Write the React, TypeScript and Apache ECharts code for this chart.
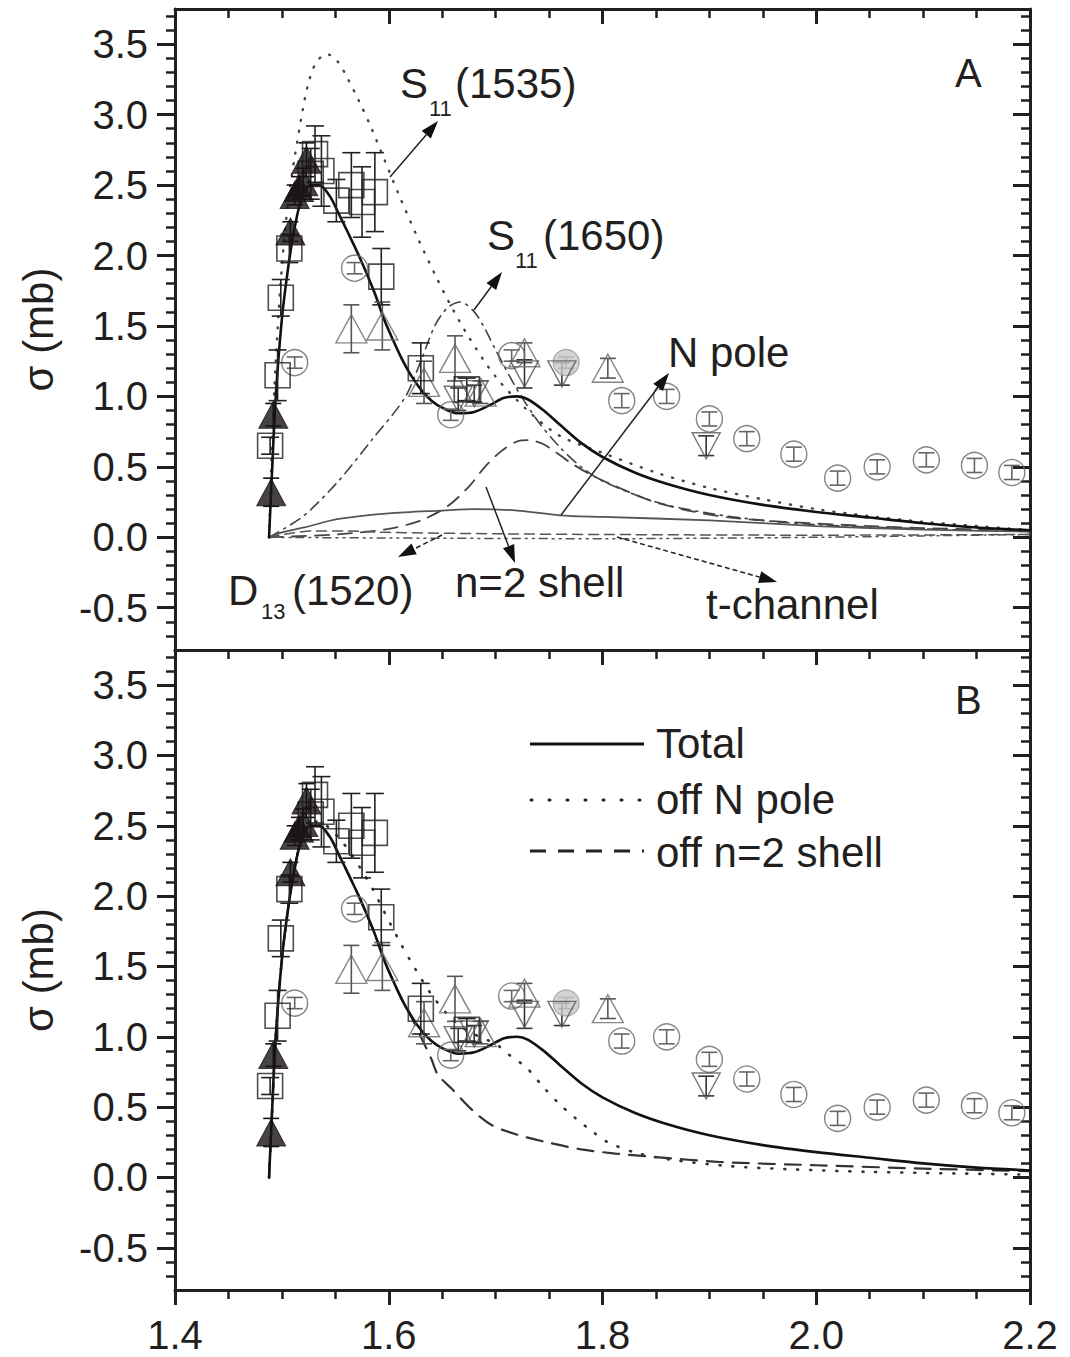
import React, { useEffect, useRef } from 'react';
import * as echarts from 'echarts';

const FONT = "'Liberation Sans', Arial, Helvetica, sans-serif";
const INK = '#231f20';

// ---- tick labels ----
const xMajorTicks = [1.4, 1.6, 1.8, 2.0, 2.2];
const yMajorTicks = [-0.5, 0, 0.5, 1.0, 1.5, 2.0, 2.5, 3.0, 3.5];
const xMinorTicks: number[] = [];
for (let i = 0; i <= 16; i++) xMinorTicks.push(Math.round((1.4 + 0.05 * i) * 100) / 100);
const yMinorTicks: number[] = [];
for (let i = -7; i <= 37; i++) yMinorTicks.push(Math.round(i) / 10);

// ---- model curves (panel A) ----
const totalCurve = [
  [1.488, 0], [1.491, 0.5], [1.494, 0.97], [1.5, 1.55], [1.506, 1.92], [1.512, 2.2], [1.519, 2.42],
  [1.527, 2.5], [1.535, 2.5], [1.545, 2.42], [1.553, 2.3], [1.562, 2.16], [1.572, 2.0], [1.58, 1.86],
  [1.587, 1.73], [1.596, 1.54], [1.604, 1.4], [1.612, 1.27], [1.62, 1.16], [1.63, 1.05], [1.64, 0.97],
  [1.65, 0.92], [1.665, 0.88], [1.68, 0.89], [1.695, 0.94], [1.708, 0.99], [1.72, 1.0], [1.73, 0.98],
  [1.745, 0.9], [1.76, 0.8], [1.78, 0.67], [1.8, 0.57], [1.83, 0.46], [1.86, 0.38], [1.9, 0.3],
  [1.95, 0.23], [2.0, 0.18], [2.05, 0.14], [2.1, 0.1], [2.15, 0.07], [2.2, 0.05],
];
const s11_1535Curve = [
  [1.488, 0], [1.492, 0.9], [1.497, 1.6], [1.502, 2.1], [1.507, 2.45], [1.512, 2.7], [1.518, 2.97],
  [1.524, 3.2], [1.532, 3.37], [1.542, 3.43], [1.552, 3.38], [1.562, 3.25], [1.572, 3.1], [1.584, 2.9],
  [1.596, 2.68], [1.609, 2.44], [1.628, 2.11], [1.643, 1.87], [1.657, 1.66], [1.675, 1.42], [1.7, 1.14],
  [1.73, 0.9], [1.76, 0.72], [1.8, 0.6], [1.85, 0.46], [1.9, 0.35], [1.95, 0.27], [2.0, 0.2],
  [2.05, 0.15], [2.1, 0.11], [2.15, 0.08], [2.2, 0.05],
];
const s11_1650Curve = [
  [1.488, 0], [1.52, 0.15], [1.553, 0.4], [1.584, 0.69], [1.615, 0.99], [1.63, 1.25], [1.643, 1.5],
  [1.655, 1.63], [1.667, 1.67], [1.68, 1.6], [1.69, 1.48], [1.7, 1.33], [1.72, 1.05], [1.74, 0.82],
  [1.76, 0.64], [1.78, 0.5], [1.8, 0.4], [1.85, 0.25], [1.9, 0.17], [1.95, 0.12], [2.0, 0.09],
  [2.1, 0.06], [2.2, 0.04],
];
const n2ShellCurve = [
  [1.488, 0], [1.55, 0.02], [1.6, 0.06], [1.63, 0.12], [1.655, 0.22], [1.675, 0.36], [1.69, 0.5],
  [1.705, 0.61], [1.72, 0.68], [1.73, 0.69], [1.745, 0.66], [1.77, 0.53], [1.79, 0.44], [1.81, 0.37],
  [1.845, 0.26], [1.88, 0.19], [1.92, 0.14], [1.97, 0.11], [2.05, 0.08], [2.1, 0.065], [2.2, 0.05],
];
const nPoleCurve = [
  [1.488, 0], [1.5, 0.035], [1.521, 0.07], [1.553, 0.13], [1.6, 0.17], [1.65, 0.19], [1.68, 0.2],
  [1.72, 0.19], [1.76, 0.156], [1.8, 0.145], [1.9, 0.12], [2.0, 0.08], [2.1, 0.055], [2.2, 0.04],
];
const d13Curve = [
  [1.488, 0], [1.51, 0.03], [1.53, 0.045], [1.56, 0.045], [1.6, 0.035], [1.7, 0.025], [1.8, 0.02],
  [2.0, 0.015], [2.2, 0.02],
];
const tChannelCurve = [
  [1.488, 0], [1.6, -0.005], [1.8, -0.01], [2.0, 0.0], [2.1, 0.01], [2.2, 0.02],
];

// ---- model curves (panel B) ----
const offNPoleCurve = [
  [1.488, 0], [1.491, 0.5], [1.494, 0.97], [1.5, 1.55], [1.506, 1.92], [1.512, 2.2], [1.519, 2.42],
  [1.527, 2.52], [1.535, 2.53], [1.545, 2.48], [1.555, 2.4], [1.565, 2.3], [1.575, 2.18], [1.585, 2.05],
  [1.595, 1.9], [1.61, 1.68], [1.625, 1.48], [1.64, 1.3], [1.655, 1.16], [1.67, 1.06], [1.685, 1.0],
  [1.7, 0.95], [1.713, 0.87], [1.729, 0.78], [1.745, 0.64], [1.76, 0.52], [1.775, 0.42], [1.79, 0.33],
  [1.805, 0.25], [1.834, 0.17], [1.87, 0.12], [1.92, 0.08], [1.97, 0.06], [2.05, 0.04], [2.2, 0.02],
];
const offN2ShellCurve = [
  [1.488, 0], [1.491, 0.5], [1.494, 0.97], [1.5, 1.55], [1.506, 1.92], [1.512, 2.2], [1.519, 2.42],
  [1.527, 2.5], [1.535, 2.5], [1.545, 2.42], [1.553, 2.3], [1.562, 2.16], [1.572, 2.0], [1.58, 1.86],
  [1.587, 1.73], [1.596, 1.54], [1.604, 1.4], [1.612, 1.27], [1.62, 1.16], [1.63, 1.0], [1.64, 0.84],
  [1.646, 0.73], [1.659, 0.63], [1.678, 0.48], [1.697, 0.37], [1.722, 0.3], [1.748, 0.25], [1.78, 0.2],
  [1.812, 0.17], [1.85, 0.145], [1.91, 0.11], [2.0, 0.087], [2.1, 0.063], [2.2, 0.045],
];

// ---- experimental data: [W (GeV), sigma (mb), error] ----
const filledTriangles = [
  [1.490, 0.32, 0.1], [1.492, 0.87, 0.08], [1.508, 2.17, 0.07], [1.512, 2.43, 0.07],
  [1.516, 2.48, 0.08], [1.520, 2.52, 0.1], [1.523, 2.68, 0.12],
];
const openSquares = [
  [1.489, 0.65, 0.06], [1.496, 1.15, 0.18], [1.499, 1.70, 0.13], [1.507, 2.05, 0.1],
  [1.527, 2.58, 0.18], [1.531, 2.72, 0.2], [1.537, 2.6, 0.25], [1.551, 2.39, 0.15],
  [1.565, 2.5, 0.23], [1.575, 2.38, 0.25], [1.587, 2.45, 0.28], [1.593, 1.85, 0.2],
  [1.630, 1.2, 0.18], [1.673, 1.05, 0.08],
];
const openTrianglesUp = [
  [1.565, 1.48, 0.17], [1.594, 1.5, 0.17], [1.633, 1.1, 0.15], [1.662, 1.27, 0.16],
  [1.686, 1.03, 0.08], [1.727, 1.31, 0.07], [1.805, 1.2, 0.07],
];
const openTrianglesDown = [
  [1.665, 0.98, 0.08], [1.68, 1.02, 0.06], [1.727, 1.16, 0.1], [1.762, 1.16, 0.08], [1.897, 0.65, 0.07],
];
const openCircles = [
  [1.512, 1.24, 0.04], [1.568, 1.91, 0.04], [1.658, 0.87, 0.04], [1.715, 1.29, 0.04],
  [1.818, 0.97, 0.05], [1.860, 1.0, 0.05], [1.900, 0.84, 0.05], [1.935, 0.70, 0.05],
  [1.979, 0.59, 0.05], [2.020, 0.42, 0.05], [2.057, 0.50, 0.05], [2.103, 0.55, 0.05],
  [2.148, 0.51, 0.05], [2.183, 0.46, 0.05],
];
const grayCircles = [[1.766, 1.24, 0.04]];

const legendLabels = ['Total', 'off N pole', 'off n=2 shell'];

function buildOption() {
  const grids = [
    { left: 175, top: 9, width: 855, height: 641 },
    { left: 175, top: 650, width: 855, height: 640 },
  ];
  const axLine = { show: true, onZero: false, lineStyle: { color: INK, width: 3 } };
  const noLine = { show: false, onZero: false };
  const xAxes: any[] = [];
  const yAxes: any[] = [];
  for (let g = 0; g < 2; g++) {
    const bx = { type: 'value', gridIndex: g, min: 1.4, max: 2.2, splitLine: { show: false } };
    xAxes.push({
      ...bx, position: 'bottom', axisLine: axLine,
      axisTick: { show: g === 1, customValues: xMajorTicks, length: 15, inside: false, lineStyle: { color: INK, width: 3 } },
      axisLabel: g === 1 ? {
        show: true, customValues: xMajorTicks, fontSize: 40, fontFamily: FONT, color: INK, margin: 25,
        formatter: (v: number) => v.toFixed(1),
      } : { show: false },
    });
    xAxes.push({
      ...bx, position: 'bottom', axisLine: noLine,
      axisTick: { show: g === 1, customValues: xMinorTicks, length: 9, inside: false, lineStyle: { color: INK, width: 2.5 } },
      axisLabel: { show: false },
    });
    xAxes.push({
      ...bx, position: 'top', axisLine: axLine,
      axisTick: { show: true, customValues: xMajorTicks, length: 15, inside: true, lineStyle: { color: INK, width: 3 } },
      axisLabel: { show: false },
    });
    xAxes.push({
      ...bx, position: 'top', axisLine: noLine,
      axisTick: { show: true, customValues: xMinorTicks, length: 9, inside: true, lineStyle: { color: INK, width: 2.5 } },
      axisLabel: { show: false },
    });

    const by = { type: 'value', gridIndex: g, min: -0.8, max: 3.75, splitLine: { show: false } };
    yAxes.push({
      ...by, position: 'left', axisLine: axLine,
      name: 'σ (mb)', nameLocation: 'middle', nameGap: 116, nameRotate: 90,
      nameTextStyle: { fontSize: 42, fontFamily: FONT, color: INK },
      axisTick: { show: true, customValues: yMajorTicks, length: 18, inside: false, lineStyle: { color: INK, width: 3 } },
      axisLabel: {
        show: true, customValues: yMajorTicks, fontSize: 40, fontFamily: FONT, color: INK, margin: 27,
        formatter: (v: number) => v.toFixed(1),
      },
    });
    yAxes.push({
      ...by, position: 'left', axisLine: noLine,
      axisTick: { show: true, customValues: yMinorTicks, length: 9, inside: false, lineStyle: { color: INK, width: 2.5 } },
      axisLabel: { show: false },
    });
    yAxes.push({
      ...by, position: 'right', axisLine: axLine,
      axisTick: { show: true, customValues: yMajorTicks, length: 17, inside: true, lineStyle: { color: INK, width: 3 } },
      axisLabel: { show: false },
    });
    yAxes.push({
      ...by, position: 'right', axisLine: noLine,
      axisTick: { show: true, customValues: yMinorTicks, length: 9, inside: true, lineStyle: { color: INK, width: 2.5 } },
      axisLabel: { show: false },
    });
  }

  const series: any[] = [];
  const curve = (g: number, data: number[][], style: any, z = 2) => {
    series.push({
      type: 'line', xAxisIndex: 4 * g, yAxisIndex: 4 * g, data, showSymbol: false, symbol: 'none',
      smooth: 0.3, lineStyle: { cap: 'round', ...style }, z, silent: true,
    });
  };
  const errBars = (g: number, data: number[][], color: string, cap: number) => {
    series.push({
      type: 'custom', xAxisIndex: 4 * g, yAxisIndex: 4 * g, silent: true, z: 4,
      data: data.map((d) => [d[0], d[1], d[1] - d[2], d[1] + d[2]]),
      encode: { x: 0, y: [1, 2, 3] },
      renderItem: (_p: any, api: any) => {
        const x = api.value(0);
        const lo = api.coord([x, api.value(2)]);
        const hi = api.coord([x, api.value(3)]);
        const st = { stroke: color, lineWidth: 1.6 };
        return {
          type: 'group',
          children: [
            { type: 'line', shape: { x1: lo[0], y1: lo[1], x2: hi[0], y2: hi[1] }, style: st },
            { type: 'line', shape: { x1: lo[0] - cap, y1: lo[1], x2: lo[0] + cap, y2: lo[1] }, style: st },
            { type: 'line', shape: { x1: hi[0] - cap, y1: hi[1], x2: hi[0] + cap, y2: hi[1] }, style: st },
          ],
        };
      },
    });
  };
  const scatter = (g: number, data: number[][], symbol: string, size: any, item: any, rotate = 0) => {
    series.push({
      type: 'scatter', xAxisIndex: 4 * g, yAxisIndex: 4 * g, silent: true, z: 5,
      data: data.map((d) => [d[0], d[1]]), symbol, symbolSize: size, symbolRotate: rotate, itemStyle: item,
    });
  };

  const dataSets = (g: number) => {
    errBars(g, openCircles, '#666', 8);
    scatter(g, openCircles, 'circle', 26, { color: 'rgba(255,255,255,0)', borderColor: '#666', borderWidth: 1.4 });
    errBars(g, grayCircles, '#777', 8);
    scatter(g, grayCircles, 'circle', 26, { color: '#c8c8c8', borderColor: '#999', borderWidth: 1.2 });
    errBars(g, openTrianglesUp, '#555', 8);
    scatter(g, openTrianglesUp, 'triangle', [31, 28], { color: 'rgba(255,255,255,0)', borderColor: '#666', borderWidth: 1.4 });
    errBars(g, openTrianglesDown, '#333', 8);
    scatter(g, openTrianglesDown, 'triangle', [28, 26], { color: 'rgba(255,255,255,0)', borderColor: '#555', borderWidth: 1.4 }, 180);
    errBars(g, openSquares, '#222', 9);
    scatter(g, openSquares, 'rect', 25, { color: 'rgba(255,255,255,0)', borderColor: '#222', borderWidth: 1.6 });
    errBars(g, filledTriangles, '#111', 8);
    scatter(g, filledTriangles, 'triangle', [29, 27], { color: '#1a1414', borderColor: '#1a1414', borderWidth: 1 });
  };

  // Panel A
  curve(0, totalCurve, { color: '#111', width: 2.6, type: 'solid' }, 3);
  curve(0, s11_1535Curve, { color: '#444', width: 2.4, type: [1, 10] });
  curve(0, s11_1650Curve, { color: '#444', width: 1.6, type: [11, 6, 2, 6] });
  curve(0, n2ShellCurve, { color: '#444', width: 1.8, type: [14, 9] });
  curve(0, nPoleCurve, { color: '#555', width: 1.8, type: 'solid' });
  curve(0, d13Curve, { color: '#555', width: 1.5, type: [10, 6] });
  curve(0, tChannelCurve, { color: '#555', width: 1.5, type: [8, 5, 2, 5, 2, 5] });
  dataSets(0);

  // Panel B
  curve(1, totalCurve, { color: '#111', width: 2.6, type: 'solid' }, 3);
  curve(1, offNPoleCurve, { color: '#333', width: 2.6, type: [1, 12] });
  curve(1, offN2ShellCurve, { color: '#333', width: 2.2, type: [16, 10] });
  dataSets(1);

  const txt = (x: number, y: number, s: string, size = 42, extra: any = {}) => ({
    type: 'text', x, y, silent: true, z: 20,
    style: { text: s, fontSize: size, fontFamily: FONT, fill: INK, verticalAlign: 'middle', align: 'left', ...extra },
  });
  const arrow = (x1: number, y1: number, x2: number, y2: number, dash?: number[]) => {
    const a = Math.atan2(y2 - y1, x2 - x1);
    const L = 18, W = 6;
    const c = Math.cos(a), s = Math.sin(a);
    const bx = x2 - L * c, by = y2 - L * s;
    return [
      { type: 'line', silent: true, z: 20, shape: { x1, y1, x2: bx, y2: by }, style: { stroke: '#222', lineWidth: 1.5, lineDash: dash } },
      { type: 'polygon', silent: true, z: 20, shape: { points: [[x2, y2], [bx - s * W, by + c * W], [bx + s * W, by - c * W]] }, style: { fill: '#111' } },
    ];
  };

  const graphic: any[] = [
    txt(955, 73, 'A', 40),
    txt(955, 700, 'B', 40),
    txt(400, 83, 'S'), txt(429, 108, '11', 22), txt(455, 83, '(1535)'),
    ...arrow(390, 177, 438, 121),
    txt(487, 235, 'S'), txt(515, 260, '11', 22), txt(543, 235, '(1650)'),
    ...arrow(474, 310, 502, 272),
    txt(668, 352, 'N pole'),
    ...arrow(561, 515, 669, 373),
    txt(228, 590, 'D'), txt(261, 611, '13', 22), txt(292, 590, '(1520)'),
    ...arrow(442, 535, 398, 557, [5, 3]),
    txt(455, 582, 'n=2 shell'),
    ...arrow(486, 487, 515, 563),
    txt(706, 604, 't-channel'),
    ...arrow(617, 537, 777, 582, [5, 3]),
    { type: 'line', silent: true, z: 20, shape: { x1: 530, y1: 744, x2: 644, y2: 744 }, style: { stroke: '#111', lineWidth: 3 } },
    { type: 'line', silent: true, z: 20, shape: { x1: 531, y1: 800, x2: 644, y2: 800 }, style: { stroke: '#222', lineWidth: 3, lineDash: [1, 17], lineCap: 'round' } },
    { type: 'line', silent: true, z: 20, shape: { x1: 530, y1: 851, x2: 644, y2: 851 }, style: { stroke: '#222', lineWidth: 3, lineDash: [16, 12] } },
    txt(656, 743, legendLabels[0]),
    txt(656, 799, legendLabels[1]),
    txt(656, 852, legendLabels[2]),
  ];

  return {
    animation: false,
    backgroundColor: '#ffffff',
    grid: grids,
    xAxis: xAxes,
    yAxis: yAxes,
    series,
    graphic,
  };
}

export default function App() {
  const ref = useRef<HTMLDivElement>(null);
  useEffect(() => {
    if (!ref.current) return;
    const chart = echarts.init(ref.current, undefined, { renderer: 'svg' });
    chart.setOption(buildOption() as any);
    return () => chart.dispose();
  }, []);
  return (
    <div
      ref={ref}
      style={{ position: 'absolute', left: 0, top: 0, width: 1070, height: 1357, background: '#fff' }}
    />
  );
}
